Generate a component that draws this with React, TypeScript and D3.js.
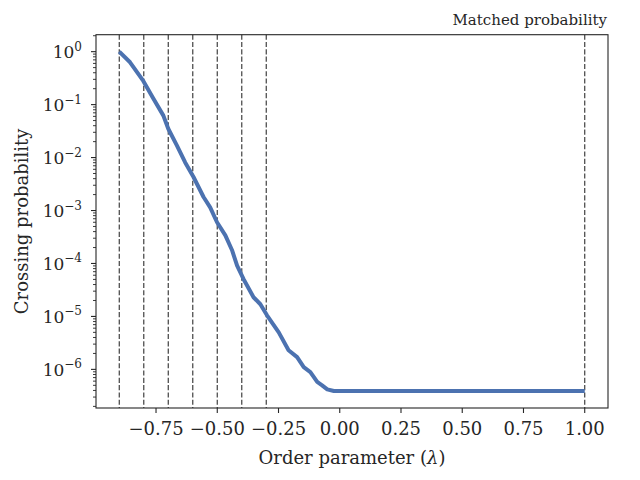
import React from "react";
import * as d3 from "d3";

// crossing probability (order parameter -> probability)
const lambdas = [
  -0.9, -0.856, -0.802, -0.761, -0.72, -0.7, -0.665, -0.631, -0.597, -0.556,
  -0.529, -0.501, -0.467, -0.44, -0.419, -0.393, -0.352, -0.324, -0.297, -0.249,
  -0.209, -0.174, -0.147, -0.12, -0.092, -0.072, -0.051, -0.024, 1.0,
];
const probs = [
  1.0, 6.3e-1, 2.8e-1, 1.3e-1, 6.2e-2, 3.5e-2, 1.7e-2, 8.1e-3, 4.3e-3, 1.8e-3,
  1.15e-3, 6.0e-4, 3.4e-4, 1.8e-4, 9.1e-5, 5.1e-5, 2.3e-5, 1.7e-5, 1.05e-5, 5.0e-6,
  2.3e-6, 1.7e-6, 1.1e-6, 8.9e-7, 5.8e-7, 5.0e-7, 4.2e-7, 3.9e-7, 3.9e-7,
];
const interfaces = [-0.9, -0.8, -0.7, -0.6, -0.5, -0.4, -0.3, 1.0];
const xTicks = [-0.75, -0.5, -0.25, 0, 0.25, 0.5, 0.75, 1.0];
const yExponents = [0, -1, -2, -3, -4, -5, -6];

const W = 640;
const H = 480;
const margin = { top: 34.7, right: 32, bottom: 72, left: 96 };
const font = "DejaVu Serif";
const ink = "#262626";

const App: React.FC = () => {
  // matplotlib-style 5% padding on both axes
  const [xmin, xmax] = d3.extent(lambdas) as [number, number];
  const xpad = (xmax - xmin) * 0.05;
  const x = d3.scaleLinear().domain([xmin - xpad, xmax + xpad]).range([margin.left, W - margin.right]);

  const lmin = Math.log10(d3.min(probs) as number);
  const lmax = Math.log10(d3.max(probs) as number);
  const lpad = (lmax - lmin) * 0.05;
  const y = d3
    .scaleLog()
    .domain([Math.pow(10, lmin - lpad), Math.pow(10, lmax + lpad)])
    .range([H - margin.bottom, margin.top]);

  const line = d3
    .line<number>()
    .x((_, i) => x(lambdas[i]))
    .y((d) => y(d));

  const bottom = H - margin.bottom;
  const left = margin.left;
  const right = W - margin.right;

  // minor log ticks inside the visible range
  const [d0, d1] = y.domain();
  const minor: number[] = [];
  for (let e = Math.floor(Math.log10(d0)); e <= Math.ceil(Math.log10(d1)); e++) {
    for (let m = 2; m <= 9; m++) {
      const v = m * Math.pow(10, e);
      if (v >= d0 && v <= d1) minor.push(v);
    }
  }

  const fmt = (v: number) => d3.format(".2f")(v).replace("-", "\u2212");

  return (
    <svg
      width={W}
      height={H}
      style={{ position: "absolute", left: 0, top: 0, background: "#fff" }}
      fontFamily={font}
    >
      {/* interface lines */}
      {interfaces.map((v) => (
        <line
          key={v}
          x1={x(v)}
          x2={x(v)}
          y1={margin.top}
          y2={bottom}
          stroke="#404040"
          strokeWidth={1.2}
          strokeDasharray="5.1,2.2"
        />
      ))}

      <path
        d={line(probs) || ""}
        fill="none"
        stroke="#4C72B0"
        strokeWidth={4}
        strokeLinejoin="round"
      />

      {/* frame */}
      <rect
        x={left}
        y={margin.top}
        width={right - left}
        height={bottom - margin.top}
        fill="none"
        stroke={ink}
        strokeWidth={1.1}
      />

      {/* x axis */}
      {xTicks.map((t) => (
        <g key={t} transform={`translate(${x(t)},${bottom})`}>
          <line y2={5} stroke={ink} strokeWidth={1.1} />
          <text y={27} textAnchor="middle" fontSize={18} fill={ink}>
            {fmt(t)}
          </text>
        </g>
      ))}

      {/* y axis */}
      {minor.map((v) => (
        <line key={v} x1={left - 3} x2={left} y1={y(v)} y2={y(v)} stroke={ink} strokeWidth={0.9} />
      ))}
      {yExponents.map((e) => {
        const yy = y(Math.pow(10, e));
        return (
          <g key={e}>
            <line x1={left - 5} x2={left} y1={yy} y2={yy} stroke={ink} strokeWidth={1.1} />
            <text x={82} y={yy + 6.5} textAnchor="end" fontSize={17} fill={ink}>
              10
              <tspan fontSize={12} dy={-7.5}>
                {e < 0 ? `\u2212${-e}` : `${e}`}
              </tspan>
            </text>
          </g>
        );
      })}

      <text
        x={(left + right) / 2}
        y={464}
        textAnchor="middle"
        fontSize={18}
        fill={ink}
      >
        Order parameter (<tspan fontStyle="italic">λ</tspan>)
      </text>
      <text
        transform={`translate(28,${(margin.top + bottom) / 2}) rotate(-90)`}
        textAnchor="middle"
        fontSize={18}
        fill={ink}
      >
        Crossing probability
      </text>
      <text x={right - 1} y={25} textAnchor="end" fontSize={15} fill={ink}>
        Matched probability
      </text>
    </svg>
  );
};

export default App;
